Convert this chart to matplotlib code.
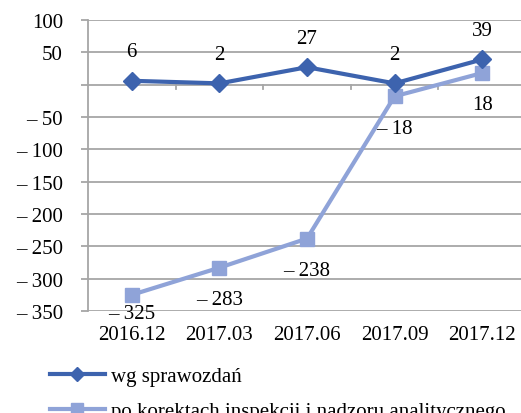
import matplotlib
matplotlib.use("Agg")
import matplotlib.pyplot as plt
from matplotlib.lines import Line2D

# data
periods = ["2016.12", "2017.03", "2017.06", "2017.09", "2017.12"]
wg_sprawozdan = [6, 2, 27, 2, 39]
po_korektach = [-325, -283, -238, -18, 18]
yticks = [100, 50, 0, -50, -100, -150, -200, -250, -300, -350]

dark = "#3D63AE"
light = "#8FA3D8"
grid_c = "#A6A6A6"

plt.rcParams["font.family"] = ["Liberation Serif", "DejaVu Serif"]
plt.rcParams["font.size"] = 15


def fmt(v):
    if v < 0:
        return "\u2013 " + str(-v)
    if v == 0:
        return ""
    return str(v)


fig = plt.figure(figsize=(5.21, 4.14), dpi=100)
W, H = 521, 414
top, bottom = 21, 312
ax = fig.add_axes([88 / W, 1 - bottom / H, 438 / W, (bottom - top) / H])
ymin, ymax = -350, 100
px_per_unit = (bottom - top) / (ymax - ymin)

x = list(range(len(periods)))
ax.plot(x, wg_sprawozdan, color=dark, lw=3, marker="D", ms=9, zorder=4)
ax.plot(x, po_korektach, color=light, lw=3, marker="s", ms=10, zorder=3)

for xi, v in zip(x, wg_sprawozdan):
    ax.annotate(fmt(v), (xi, v), xytext=(0, 21), textcoords="offset points",
                ha="center", va="center")
for xi, v in zip(x, po_korektach):
    # labels below the points, kept inside the plot area like Excel does
    off = min(23, (v - ymin) * px_per_unit * 0.72 + 1.5)
    ax.annotate(fmt(v), (xi, v), xytext=(0, -off), textcoords="offset points",
                ha="center", va="center")

ax.set_xlim(-0.5, len(periods) - 0.5)
ax.set_ylim(ymin, ymax)
ax.set_yticks(yticks)
ax.set_yticklabels([fmt(v) for v in yticks])
ax.yaxis.grid(True, color=grid_c, lw=1.3)
ax.set_axisbelow(True)
ax.tick_params(axis="y", length=5, color=grid_c, width=1.3, pad=13)

# category axis line at y=0 with boundary ticks, labels at bottom
ax.set_xticks(x)
ax.set_xticklabels(periods)
ax.tick_params(axis="x", length=0, pad=10)
for b in [i + 0.5 for i in x[:-1]]:
    ax.plot([b, b], [0, -7], color=grid_c, lw=1.3, zorder=1)

for s in ["top", "right", "bottom"]:
    ax.spines[s].set_visible(False)
ax.spines["left"].set_color(grid_c)
ax.spines["left"].set_linewidth(1.3)

handles = [
    Line2D([], [], color=dark, lw=3, marker="D", ms=7),
    Line2D([], [], color=light, lw=3, marker="s", ms=9),
]
fig.legend(handles, ["wg sprawozdań", "po korektach inspekcji i nadzoru analitycznego"],
           loc="upper left", bbox_to_anchor=(42 / W, 1 - 359 / H), frameon=False,
           handlelength=2.6, handletextpad=0.3, labelspacing=0.75, borderaxespad=0)

fig.savefig("out.png", dpi=100)
